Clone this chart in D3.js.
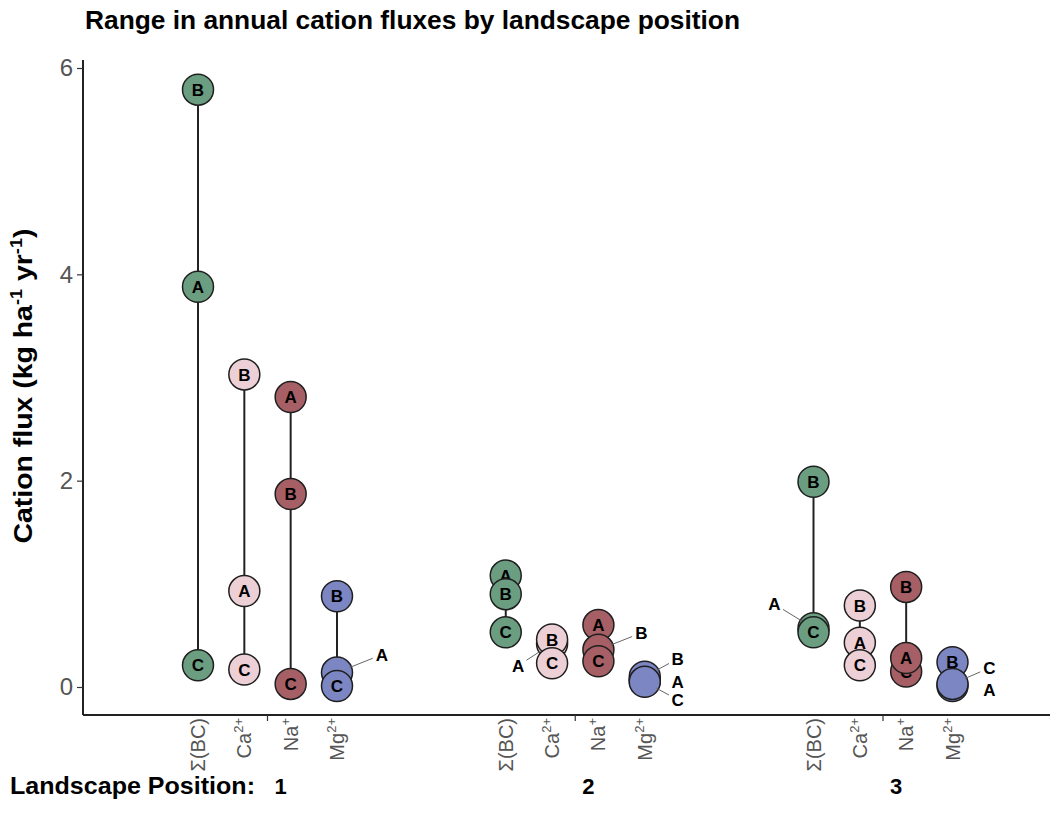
<!DOCTYPE html>
<html>
<head>
<meta charset="utf-8">
<script src="https://cdn.jsdelivr.net/npm/d3@7"></script>
<style>
  html, body { margin: 0; padding: 0; background: #fff; }
  svg { display: block; font-family: "Liberation Sans", Arial, Helvetica, sans-serif; }
</style>
</head>
<body>
<svg id="chart" width="1054" height="824"></svg>
<script>
// Landscape positions and the cations measured at each
const positions = ["1", "2", "3"];
const cations = ["BC", "Ca", "Na", "Mg"];
const sites = ["A", "B", "C"];

// Annual flux (kg ha-1 yr-1), one row per landscape position, columns follow `cations`
const fluxA = [
  [3.88, 0.93, 2.81, 0.14],
  [1.08, 0.42, 0.60, 0.06],
  [0.57, 0.43, 0.28, 0.01]
];
const fluxB = [
  [5.79, 3.03, 1.87, 0.88],
  [0.90, 0.46, 0.36, 0.10],
  [1.99, 0.79, 0.97, 0.24]
];
const fluxC = [
  [0.21, 0.17, 0.03, 0.01],
  [0.53, 0.23, 0.25, 0.05],
  [0.53, 0.21, 0.15, 0.03]
];
const yTicks = [0, 2, 4, 6];

// Tick label pieces: base text and superscript
const cationLabels = {
  BC: ["\u03A3(BC)", ""],
  Ca: ["Ca", "2+"],
  Na: ["Na", "+"],
  Mg: ["Mg", "2+"]
};
const cationColors = { BC: "#6b9e81", Ca: "#edd0d6", Na: "#a65f65", Mg: "#7b86c3" };

// Labels pushed off their points where they would collide (pixel nudges)
const labelNudges = {
  "1|Mg|A": [45, -18],
  "2|Ca|A": [-34, 22],
  "2|Na|B": [43, -17],
  "2|Mg|B": [33, -18],
  "2|Mg|A": [33, 1],
  "2|Mg|C": [33, 18],
  "3|BC|A": [-39, -24],
  "3|Mg|C": [37, -16],
  "3|Mg|A": [37, 4]
};
// Stacking order of overlapping points (later is drawn on top)
const stackOrder = { default: ["A", "B", "C"], "3|Na": ["C", "A", "B"] };

const siteValues = { A: fluxA, B: fluxB, C: fluxC };
const records = [];
positions.forEach((p, pi) => {
  cations.forEach((c, ci) => {
    const order = stackOrder[`${p}|${c}`] || stackOrder.default;
    order.forEach(s => {
      records.push({ pos: p, cation: c, site: s, value: siteValues[s][pi][ci] });
    });
  });
});

const svg = d3.select("#chart");
const plot = { left: 83, right: 1050, top: 60, bottom: 715 };

const xOuter = d3.scalePoint().domain(positions).range([267.5, 883]);
const xInner = d3.scalePoint().domain(cations).range([-69.5, 69.5]);
const x = (p, c) => xOuter(p) + xInner(c);
const y = d3.scaleLinear().domain([0, 6]).range([687, 68]);
const r = 15.5;
const ptFont = 17;

// Title
svg.append("text")
  .attr("x", 85).attr("y", 29)
  .attr("font-size", 25).attr("font-weight", "bold").attr("fill", "#000")
  .attr("textLength", 655).attr("lengthAdjust", "spacingAndGlyphs")
  .text("Range in annual cation fluxes by landscape position");

// Y axis
const yAxis = svg.append("g")
  .attr("transform", `translate(${plot.left},0)`)
  .call(d3.axisLeft(y).tickValues(yTicks).tickSize(6).tickPadding(4).tickFormat(d3.format("d")));
yAxis.select(".domain").attr("d", `M0,${plot.top}V${plot.bottom}`).attr("stroke", "#222").attr("stroke-width", 2);
yAxis.selectAll(".tick line").attr("stroke", "#333").attr("stroke-width", 1.2);
yAxis.selectAll(".tick text").attr("font-size", 24).attr("fill", "#555")
  .attr("font-family", "Liberation Sans, Arial, sans-serif");

// Y axis title
const yt = svg.append("text")
  .attr("transform", `translate(32,386) rotate(-90)`)
  .attr("text-anchor", "middle").attr("font-size", 25).attr("font-weight", "bold")
  .attr("textLength", 315).attr("lengthAdjust", "spacingAndGlyphs");
yt.append("tspan").text("Cation flux (kg ha");
yt.append("tspan").attr("font-size", 16).attr("dy", -10).text("-1");
yt.append("tspan").attr("dy", 10).text(" yr");
yt.append("tspan").attr("font-size", 16).attr("dy", -10).text("-1");
yt.append("tspan").attr("dy", 10).text(")");

// X axis line with group ticks
svg.append("line")
  .attr("x1", plot.left).attr("x2", plot.right)
  .attr("y1", plot.bottom).attr("y2", plot.bottom)
  .attr("stroke", "#222").attr("stroke-width", 2);
svg.selectAll(".gtick").data(positions).join("line")
  .attr("class", "gtick")
  .attr("x1", d => xOuter(d)).attr("x2", d => xOuter(d))
  .attr("y1", plot.bottom).attr("y2", plot.bottom + 6)
  .attr("stroke", "#333").attr("stroke-width", 1.2);

// Cation tick labels (rotated)
const tickData = [];
positions.forEach(p => cations.forEach(c => tickData.push({ pos: p, cation: c })));
const tl = svg.selectAll(".ctick").data(tickData).join("text")
  .attr("class", "ctick")
  .attr("transform", d => `translate(${x(d.pos, d.cation) + 7},${plot.bottom + 3}) rotate(-90)`)
  .attr("text-anchor", "end").attr("font-size", 20).attr("fill", "#555");
tl.append("tspan").text(d => cationLabels[d.cation][0]);
tl.append("tspan").attr("font-size", 13).attr("dy", -8).text(d => cationLabels[d.cation][1]);

// Bottom row: landscape position labels
svg.append("text")
  .attr("x", 10).attr("y", 794)
  .attr("font-size", 24).attr("font-weight", "bold")
  .attr("textLength", 245).attr("lengthAdjust", "spacingAndGlyphs")
  .text("Landscape Position:");
svg.selectAll(".plabel").data(positions).join("text")
  .attr("class", "plabel")
  .attr("x", d => xOuter(d) + 13).attr("y", 794)
  .attr("text-anchor", "middle").attr("font-size", 22).attr("font-weight", "bold")
  .text(d => d);

// Range segments
const ranges = d3.rollups(records, v => d3.extent(v, d => d.value), d => d.pos, d => d.cation);
const segs = [];
ranges.forEach(([p, byC]) => byC.forEach(([c, ext]) => segs.push({ pos: p, cation: c, lo: ext[0], hi: ext[1] })));
svg.selectAll(".seg").data(segs).join("line")
  .attr("class", "seg")
  .attr("x1", d => x(d.pos, d.cation)).attr("x2", d => x(d.pos, d.cation))
  .attr("y1", d => y(d.lo)).attr("y2", d => y(d.hi))
  .attr("stroke", "#222").attr("stroke-width", 2);

// Points, each with its own label when it is not pushed aside
const key = d => `${d.pos}|${d.cation}|${d.site}`;
const pts = svg.selectAll(".pt").data(records).join("g").attr("class", "pt")
  .attr("transform", d => `translate(${x(d.pos, d.cation)},${y(d.value)})`);
pts.append("circle")
  .attr("r", r)
  .attr("fill", d => cationColors[d.cation])
  .attr("stroke", "#1f1f1f").attr("stroke-width", 1.5);
pts.filter(d => !labelNudges[key(d)]).append("text")
  .attr("text-anchor", "middle").attr("dy", "0.36em")
  .attr("font-size", ptFont).attr("font-weight", "bold").attr("fill", "#000")
  .text(d => d.site);

// Repelled labels with leader lines
const moved = records.filter(d => labelNudges[key(d)]);
const mg = svg.selectAll(".moved").data(moved).join("g").attr("class", "moved");
mg.each(function (d) {
  const [dx, dy] = labelNudges[key(d)];
  const px = x(d.pos, d.cation), py = y(d.value);
  const len = Math.hypot(dx, dy);
  const g = d3.select(this);
  if (len > 0 && Math.abs(dy) > 8) {
    const ux = dx / len, uy = dy / len;
    g.append("line")
      .attr("x1", px + ux * (r - 2)).attr("y1", py + uy * (r - 2))
      .attr("x2", px + ux * (len - 10)).attr("y2", py + uy * (len - 10))
      .attr("stroke", "#666").attr("stroke-width", 1);
  }
  g.append("text")
    .attr("x", px + dx).attr("y", py + dy)
    .attr("text-anchor", "middle").attr("dy", "0.36em")
    .attr("font-size", ptFont).attr("font-weight", "bold").attr("fill", "#000")
    .text(d.site);
});
</script>
</body>
</html>
